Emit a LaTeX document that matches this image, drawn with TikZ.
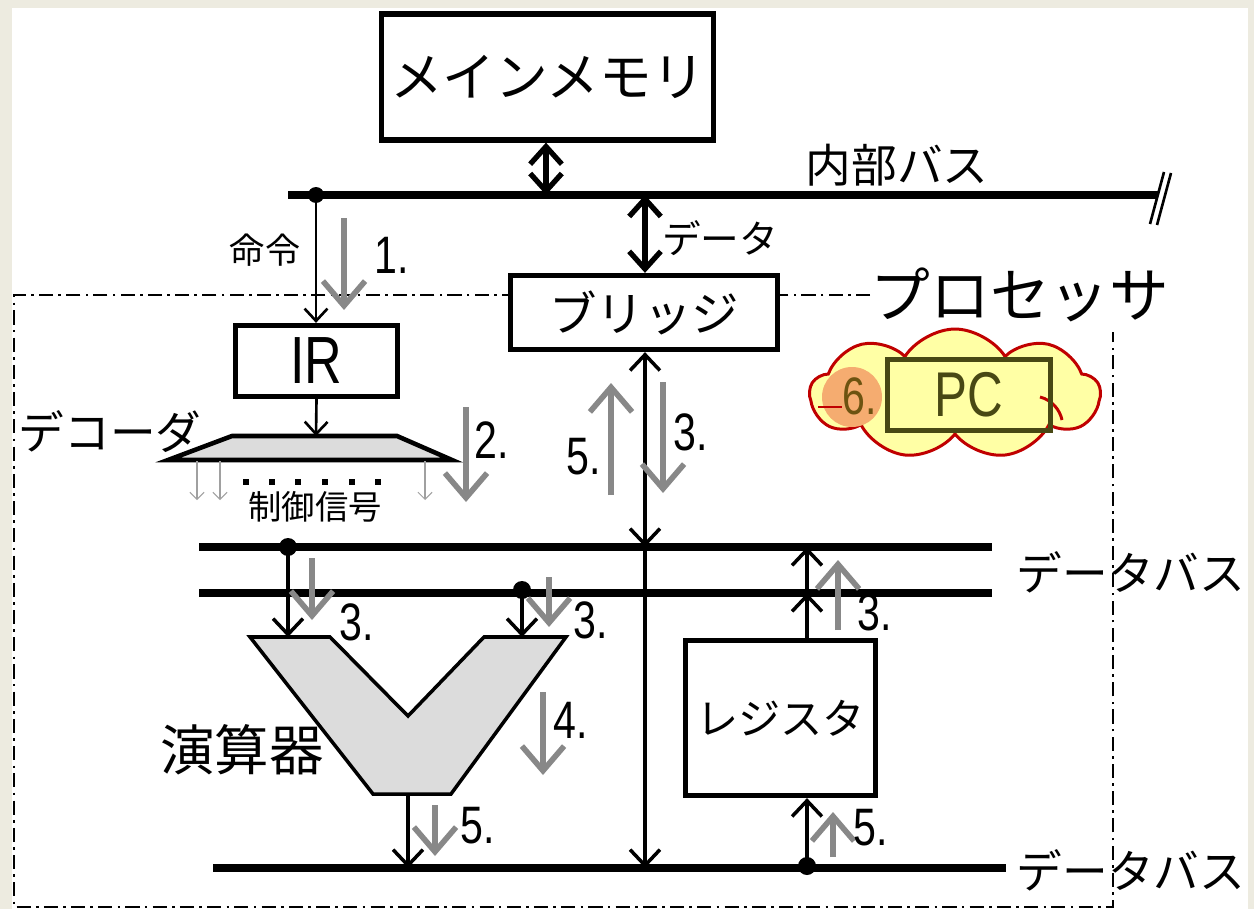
\documentclass[tikz,border=0pt]{standalone}
\usepackage{fontspec}
\newfontfamily\jp{Noto Sans CJK JP}
\newfontfamily\nar[FakeStretch=0.78]{Liberation Sans}
\usetikzlibrary{arrows.meta,shapes.symbols}
\definecolor{bgbeige}{RGB}{237,235,224}
\definecolor{garrow}{RGB}{136,136,136}
\definecolor{alufill}{RGB}{220,220,220}
\definecolor{cloudfill}{RGB}{255,255,165}
\definecolor{cloudline}{RGB}{192,0,0}
\definecolor{pcline}{RGB}{72,72,20}
\definecolor{blob}{RGB}{245,172,112}
\begin{document}
\begin{tikzpicture}[x=0.02cm,y=-0.02cm,
  box/.style={draw,line width=3pt,fill=white,inner sep=0pt},
  bus/.style={line width=4pt},
  dbl/.style={line width=3pt,{Straight Barb[length=10pt,width=18pt]}-{Straight Barb[length=10pt,width=18pt]}},
  blk/.style={line width=2pt,-{Straight Barb[length=9pt,width=17pt]}},
  thinblk/.style={line width=1.5pt,-{Straight Barb[length=7pt,width=13pt]}},
  gry/.style={draw=garrow,line width=3.2pt,-{Straight Barb[length=14pt,width=24pt]}},
  tgry/.style={draw=garrow!80,line width=0.6pt,-{Straight Barb[length=4pt,width=8pt]}},
  jpl/.style={font=\jp\fontsize{#1}{#1}\selectfont,inner sep=0pt},
  num/.style={font=\nar\fontsize{30}{30}\selectfont,inner sep=0pt},
  dotn/.style={circle,fill=black,inner sep=0pt,minimum size=0.36cm},
  procline/.style={line width=1.3pt,dash pattern=on 8pt off 3pt on 1.5pt off 3pt}
]
% background
\fill[bgbeige] (0,0) rectangle (1254,909);
\fill[white] (12,8) rectangle (1248,909);
\useasboundingbox (0,0) rectangle (1254,909);

% processor border
\draw[procline] (870,295) -- (14,295) -- (14,907) -- (1113,907) -- (1113,332);
\node[jpl=34pt] (proc) at (1020,295) {プロセッサ};

% main memory and internal bus
\node[box,minimum width=6.65cm,minimum height=2.52cm] (mem) at (547.5,77) {\jp\fontsize{30}{30}\selectfont メインメモリ};
\coordinate (ibL) at (288,195);
\coordinate (ibR) at (1158,195);
\draw[bus] (ibL) -- (ibR);
\draw[line width=1.5pt] (1150,224) -- (1164,172) (1157,225) -- (1171,173);
\node[jpl=26pt] (iblabel) at (897,165) {内部バス};
\coordinate (memB) at (546,195);
\draw[dbl] (mem.south -| memB) -- (memB);

% bridge
\node[box,minimum width=5.34cm,minimum height=1.48cm] (bridge) at (644,312.5) {\jp\fontsize{27}{27}\selectfont ブリッジ};
\coordinate (dataT) at (645,195);
\draw[dbl] (dataT) -- (dataT |- bridge.north);
\node[jpl=22pt] (datalbl) at (720,238) {データ};

% instruction path
\node[dotn,minimum size=0.32cm] (ibdot) at (316,195) {};
\node[box,minimum width=3.24cm,minimum height=1.42cm] (ir) at (316.5,361) {\nar\fontsize{38}{38}\selectfont IR};
\draw[thinblk] (ibdot.center) -- (ibdot.center |- ir.north);
\node[jpl=20pt] (meirei) at (265,250) {命令};
\draw[gry] (344,218) -- (344,310);
\node[num] (n1) at (392,255) {1.};

% decoder
\coordinate (decT) at (316,436);
\draw[line width=2.6pt,fill=alufill,line join=miter] (232,436) -- (397,436) -- (452,460) -- (168,460) -- cycle;
\draw[thinblk] (ir.south) -- (decT);
\node[jpl=26pt] (declbl) at (110,432) {デコーダ};
\draw[tgry] (197,461) -- (197,500);
\draw[tgry] (220,461) -- (220,500);
\draw[tgry] (425,461) -- (425,500);
\foreach \x in {246,272,298,325,352,378} \fill (\x-3,479) rectangle (\x+3,485);
\node[jpl=19pt] (ctrl) at (315,507) {制御信号};
\draw[gry] (466,407) -- (466,502);
\node[num] (n2) at (492,440) {2.};

% buses
\coordinate (b1L) at (199,547); \coordinate (b1R) at (992,547);
\coordinate (b2L) at (199,593); \coordinate (b2R) at (992,593);
\coordinate (b3L) at (213,868); \coordinate (b3R) at (1006,868);
\draw[bus] (b1L) -- (b1R);
\draw[bus] (b2L) -- (b2R);
\draw[bus] (b3L) -- (b3R);
\node[jpl=26pt] (dbus1) at (1131,572) {データバス};
\node[jpl=26pt] (dbus2) at (1131,870) {データバス};

% bridge vertical
\coordinate (brB1) at (645,547);
\coordinate (brB3) at (645,868);
\draw[blk,{Straight Barb[length=9pt,width=17pt]}-{Straight Barb[length=9pt,width=17pt]}] (brB1 |- bridge.south) -- (brB1);
\draw[blk] (brB1) -- (brB3);
\draw[gry] (611,495) -- (611,383);
\node[num] (n5b) at (584,457) {5.};
\draw[gry] (663,382) -- (663,493);
\node[num] (n3b) at (691,432) {3.};

% ALU
\draw[line width=2pt,fill=alufill,line join=miter] (250,637) -- (330,637) -- (408,716) -- (484,637) -- (566,637) -- (451,794) -- (373,794) -- cycle;
\coordinate (aluA) at (288,637);
\coordinate (aluB) at (522,637);
\coordinate (aluO) at (408,794);
\node[dotn] (d1) at (288,547) {};
\node[dotn] (d2) at (522,590) {};
\draw[blk] (d1.center) -- (aluA);
\draw[blk] (d2.center) -- (aluB);
\draw[gry] (312,558) -- (312,620);
\node[num] (n3a) at (357,622) {3.};
\draw[gry] (549,577) -- (549,627);
\node[num] (n3c) at (591,620) {3.};
\node[jpl=31pt] (alulbl) at (242,750) {演算器};
\draw[gry] (543,692) -- (543,775);
\node[num] (n4) at (571,720) {4.};
\draw[blk] (aluO) -- (aluO |- b3L);
\draw[gry] (435,805) -- (435,856);
\node[num] (n5a) at (478,826) {5.};

% register
\node[box,minimum width=3.8cm,minimum height=3.1cm] (reg) at (780.5,718) {\jp\fontsize{24}{24}\selectfont レジスタ};
\coordinate (rT2) at (807,593);
\coordinate (rT1) at (807,547);
\draw[blk] (rT2 |- reg.north) -- (rT2);
\draw[blk] (rT2) -- (rT1);
\draw[gry] (838,630) -- (838,560);
\node[num] (n3r) at (875,612) {3.};
\node[dotn] (d3) at (807,866) {};
\draw[blk] (d3.center) -- (d3.center |- reg.south);
\draw[gry] (833,857) -- (833,812);
\node[num] (n5r) at (871,828) {5.};

% PC cloud
\node[cloud,cloud puffs=9,cloud puff arc=115,aspect=2.3,draw=cloudline,fill=cloudfill,line width=1.7pt,minimum width=5.8cm,minimum height=2.6cm,inner sep=0pt] (cloud) at (955,394) {};
\fill[blob] (852,397) circle [radius=0.6cm];
\draw[cloudline,line width=1.7pt] (818,407) -- (842,407);
\draw[cloudline,line width=1.7pt] (1040,397) .. controls (1052,400) and (1060,410) .. (1062,420);
\node[draw=pcline,line width=2.8pt,inner sep=0pt,minimum width=3.26cm,minimum height=1.42cm,text=pcline,font=\nar\fontsize{36}{36}\selectfont] (pc) at (969,395) {PC};
\node[num,text=pcline!80!orange] (n6) at (860,396) {6.};
\end{tikzpicture}
\end{document}
